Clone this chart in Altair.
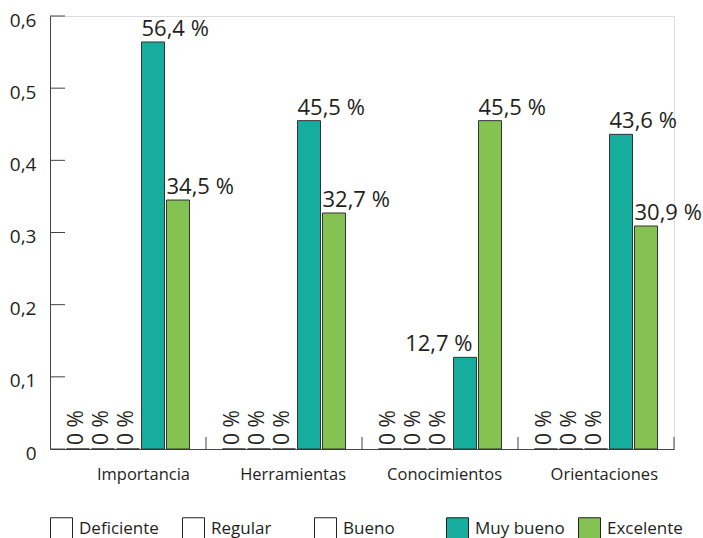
import altair as alt
import pandas as pd

categories = ["Importancia", "Herramientas", "Conocimientos", "Orientaciones"]
levels = ["Deficiente", "Regular", "Bueno", "Muy bueno", "Excelente"]
deficiente = [0, 0, 0, 0]
regular = [0, 0, 0, 0]
bueno = [0, 0, 0, 0]
muy_bueno = [0.564, 0.455, 0.127, 0.436]
excelente = [0.345, 0.327, 0.455, 0.309]
label_side = [["left"] * 5, ["left"] * 5, ["left", "left", "left", "right", "left"], ["left"] * 5]
colors = ["#ffffff", "#ffffff", "#ffffff", "#16ad9f", "#84c351"]
y_ticks = [0, 0.1, 0.2, 0.3, 0.4, 0.5, 0.6]

series = [deficiente, regular, bueno, muy_bueno, excelente]
rows = []
for ci, cat in enumerate(categories):
    for li, lev in enumerate(levels):
        v = series[li][ci]
        if v == 0:
            lab = "0 %"
        else:
            lab = f"{v * 100:.1f}".replace(".", ",") + " %"
        rows.append({"cat": cat, "level": lev, "value": v, "label": lab,
                     "side": label_side[ci][li], "zero": v == 0})
df = pd.DataFrame(rows)

FONT = "Open Sans"
TXT = "#231f20"

x_enc = alt.X("cat:N", sort=categories, title=None,
              scale=alt.Scale(paddingInner=0, paddingOuter=0),
              axis=alt.Axis(ticks=False, labelFontSize=16.5, labelFont=FONT,
                            labelColor=TXT, labelPadding=17, domainColor="#444",
                            labelAngle=0, labelAlign="right", labelOffset=62))
xo_enc = alt.XOffset("level:N", sort=levels,
                     scale=alt.Scale(paddingInner=0.08, paddingOuter=0.66))
y_enc = alt.Y("value:Q", title=None, stack=None,
              scale=alt.Scale(domain=[0, 0.6], nice=False),
              axis=alt.Axis(values=y_ticks, ticks=False, grid=False,
                            labelFontSize=19, labelFont=FONT, labelColor=TXT,
                            labelPadding=14, domainColor="#444", labelOffset=4,
                            labelExpr="datum.value == 0 ? '0' : replace(format(datum.value, '.1f'), '.', ',')"))

base = alt.Chart(df)

bars = base.mark_bar(stroke="#333", strokeWidth=1).encode(
    x=x_enc, xOffset=xo_enc, y=y_enc,
    fill=alt.Fill("level:N", sort=levels,
                  scale=alt.Scale(domain=levels, range=colors),
                  legend=alt.Legend(title=None, orient="none", legendX=0, legendY=501,
                                    direction="horizontal", columns=5, gridAlign="all",
                                    columnPadding=11, symbolType="square", symbolSize=484,
                                    symbolStrokeColor="#222", symbolStrokeWidth=1,
                                    labelFontSize=17, labelFont=FONT, labelColor=TXT,
                                    labelOffset=6)),
)

lab_left = base.transform_filter("!datum.zero && datum.side == 'left'").mark_text(
    align="left", baseline="alphabetic", dx=-11.5, dy=-6, fontSize=22, font=FONT, color=TXT
).encode(x=alt.X("cat:N", sort=categories), xOffset=alt.XOffset("level:N", sort=levels),
         y="value:Q", text="label:N")

lab_right = base.transform_filter("!datum.zero && datum.side == 'right'").mark_text(
    align="right", baseline="alphabetic", dx=7.5, dy=-6, fontSize=22, font=FONT, color=TXT
).encode(x=alt.X("cat:N", sort=categories), xOffset=alt.XOffset("level:N", sort=levels),
         y="value:Q", text="label:N")

lab_zero = base.transform_filter("datum.zero").mark_text(
    align="left", baseline="middle", angle=270, dx=4, dy=-1, fontSize=21, font=FONT, color=TXT
).encode(x=alt.X("cat:N", sort=categories), xOffset=alt.XOffset("level:N", sort=levels),
         y="value:Q", text="label:N")

tick_df = pd.DataFrame({"v": y_ticks})
y_ticks_rule = alt.Chart(tick_df).mark_rule(color="#444", strokeWidth=1).encode(
    y=alt.Y("v:Q"), x=alt.value(0), x2=alt.value(15))

cat_df = pd.DataFrame({"cat": categories})
x_ticks_rule = alt.Chart(cat_df).mark_rule(color="#444", strokeWidth=1).encode(
    x=alt.X("cat:N", sort=categories, bandPosition=1), y=alt.value(421), y2=alt.value(433))

chart = alt.layer(bars, lab_left, lab_right, lab_zero, y_ticks_rule, x_ticks_rule).properties(
    width=624, height=433,
    autosize=alt.AutoSizeParams(type="none"),
    padding={"left": 50, "top": 16, "right": 29, "bottom": 89},
).configure_view(stroke=None).configure(background="white")

chart.save("out.html", embed_options={"renderer": "svg", "actions": False})
